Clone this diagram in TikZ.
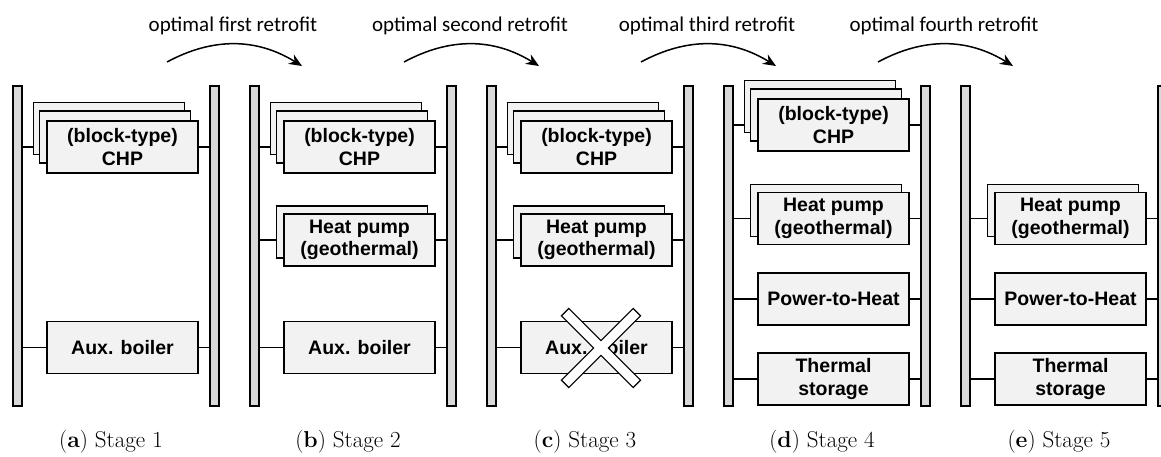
\documentclass[tikz,border=0pt]{standalone}
\usepackage{fontspec}
\newfontfamily\boxfont{Liberation Sans}
\newfontfamily\notefont{Carlito}
\usepackage{tikz}
\usetikzlibrary{arrows.meta, positioning}
\definecolor{barfill}{HTML}{D9D9D9}
\definecolor{unitfill}{HTML}{F2F2F2}

\begin{document}
\begin{tikzpicture}[x=1pt, y=-1pt,
  bar/.style={rectangle, draw=black, fill=barfill, line width=1.4pt,
              minimum width=9pt, minimum height=320pt, inner sep=0pt},
  unit/.style={rectangle, draw=black, fill=unitfill, line width=1.6pt,
               minimum width=151pt, minimum height=52pt, inner sep=0pt,
               align=center, font=\boxfont\bfseries\fontsize{19.5}{22.5}\selectfont},
  link/.style={line width=1.3pt},
  retro/.style={-{Stealth[length=13pt, width=11pt]}, line width=1.5pt},
  note/.style={font=\notefont\fontsize{21}{25}\selectfont, inner sep=0pt},
  caption/.style={font=\fontsize{23}{27}\selectfont, inner sep=0pt}
]
  \useasboundingbox (0,0) rectangle (1161,457);

  % bus bars and captions
  \foreach \s/\L/\n in {a/13/1, b/250/2, c/487/3, d/724/4, e/961/5} {
    \node[bar] (l\s) at ({\L+4.5},246) {};
    \node[bar] (r\s) at ({\L+201.5},246) {};
    \node[caption] (cap\s) at ({\L+98},442) {(\textbf{\s}) Stage \n};
  }

  % retrofit steps
  \foreach \k/\w in {0/first, 1/second, 2/third, 3/fourth} {
    \node[note] (t\k) at ({233+237*\k},26) {optimal \w\ retrofit};
    \coordinate (s\k) at ({167+237*\k},62);
    \coordinate (e\k) at ({302+237*\k},66);
    \draw[retro] (s\k) to[bend left=30] (e\k);
  }

  % stage 1
  \node[unit] (chpa-b) at (109,128.5) {};
  \node[unit] (chpa-m) at (115,137) {};
  \node[unit] (chpa)   at (122.5,147) {(block-type)\\CHP};
  \node[unit] (auxa)   at (122.5,347.5) {Aux. boiler};

  % stage 2
  \node[unit] (chpb-b) at (346,128.5) {};
  \node[unit] (chpb-m) at (352,137) {};
  \node[unit] (chpb)   at (359.5,147) {(block-type)\\CHP};
  \node[unit] (hpb-b)  at (352,232) {};
  \node[unit] (hpb)    at (359.5,240) {Heat pump\\(geothermal)};
  \node[unit] (auxb)   at (359.5,347.5) {Aux. boiler};

  % stage 3
  \node[unit] (chpc-b) at (583,128.5) {};
  \node[unit] (chpc-m) at (589,137) {};
  \node[unit] (chpc)   at (596.5,147) {(block-type)\\CHP};
  \node[unit] (hpc-b)  at (589,232) {};
  \node[unit] (hpc)    at (596.5,240) {Heat pump\\(geothermal)};
  \node[unit] (auxc)   at (596.5,347.5) {Aux. boiler};

  % stage 4
  \node[unit] (chpd-b) at (820,106.5) {};
  \node[unit] (chpd-m) at (826,115) {};
  \node[unit] (chpd)   at (833.5,125) {(block-type)\\CHP};
  \node[unit] (hpd-b)  at (826,210.5) {};
  \node[unit] (hpd)    at (833.5,218.5) {Heat pump\\(geothermal)};
  \node[unit] (p2hd)   at (833.5,299) {Power-to-Heat};
  \node[unit] (tsd)    at (833.5,379) {Thermal\\storage};

  % stage 5
  \node[unit] (hpe-b)  at (1063,210.5) {};
  \node[unit] (hpe)    at (1070.5,218.5) {Heat pump\\(geothermal)};
  \node[unit] (p2he)   at (1070.5,299) {Power-to-Heat};
  \node[unit] (tse)    at (1070.5,379) {Thermal\\storage};

  % connections to the bars
  \foreach \u/\b/\s in {chpa/chpa-b/a, chpb/chpb-b/b, hpb/hpb-b/b, chpc/chpc-b/c,
                        hpc/hpc-b/c, chpd/chpd-b/d, hpd/hpd-b/d, hpe/hpe-b/e} {
    \draw[link] (l\s.east |- \u) -- (\b.west |- \u);
    \draw[link] (\u.east) -- (r\s.west |- \u);
  }
  \foreach \u/\s in {auxa/a, auxb/b, auxc/c, p2hd/d, tsd/d, p2he/e, tse/e} {
    \draw[link] (l\s.east |- \u) -- (\u.west);
    \draw[link] (\u.east) -- (r\s.west |- \u);
  }

  % removed boiler
  \begin{scope}[shift={(601,348)}]
    \draw[line width=2.6pt] [rotate=45] (-50,-4.5) rectangle (50,4.5);
    \draw[line width=2.6pt] [rotate=-45] (-50,-4.5) rectangle (50,4.5);
    \fill[white] [rotate=45] (-50,-4.5) rectangle (50,4.5);
    \fill[white] [rotate=-45] (-50,-4.5) rectangle (50,4.5);
  \end{scope}
\end{tikzpicture}
\end{document}
